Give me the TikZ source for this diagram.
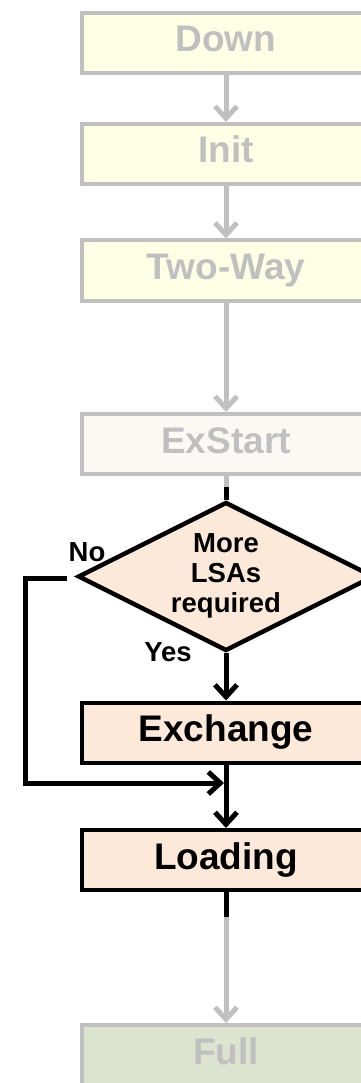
\documentclass[tikz,border=0pt]{standalone}
\usepackage{fontspec}
\setmainfont{Liberation Sans}
\usetikzlibrary{arrows.meta,shapes.geometric}
\definecolor{fadegray}{HTML}{C0C0C0}
\definecolor{paleyellow}{HTML}{FFFFE6}
\definecolor{paleivory}{HTML}{FBF9F4}
\definecolor{peach}{HTML}{FDE9D9}
\definecolor{palegreen}{HTML}{DCE4CF}
\tikzset{
  statebox/.style={rectangle, minimum width=288pt, minimum height=60pt,
    line width=4pt, inner sep=0pt, text height=26pt, text depth=8pt,
    font=\fontsize{37pt}{40pt}\selectfont\bfseries},
  faded/.style={statebox, draw=fadegray, text=fadegray},
  active/.style={statebox, draw=black, fill=peach, text=black},
  chev/.style={-{Straight Barb[length=12pt,width=22pt]}},
  grayline/.style={draw=fadegray, line width=5pt},
  blackline/.style={draw=black, line width=5pt},
  lbl/.style={font=\fontsize{27.5pt}{30pt}\selectfont\bfseries, inner sep=0pt},
}
\begin{document}
\begin{tikzpicture}[x=1pt,y=-1pt]
  \useasboundingbox (0,0) rectangle (361,1083);
  \clip (0,0) rectangle (361,1083);

  % states of the neighbour state machine
  \node[faded, fill=paleyellow] (down)   at (226,43)    {Down};
  \node[faded, fill=paleyellow] (init)   at (226,154)   {Init};
  \node[faded, fill=paleyellow] (twoway) at (226,270.5) {Two-Way};
  \node[faded, fill=paleivory]  (exstart) at (226,444)  {ExStart};

  % decision
  \node[diamond, draw=black, fill=peach, line width=4.5pt, inner sep=0pt,
        minimum width=296pt, minimum height=149pt] (dec) at (226,576.5) {};
  \node[lbl, align=center] (dectext) at (226,576) {More\\LSAs\\required};
  \node[lbl] (no)  at (87,552) {No};
  \node[lbl] (yes) at (168,652) {Yes};

  \node[active] (exchange) at (226,732.5) {Exchange};
  \node[active] (loading)  at (226,860)   {Loading};
  \node[faded, fill=palegreen] (full) at (226,1055) {Full};

  % connectors
  \draw[grayline, chev] (down) -- (init);
  \draw[grayline, chev] (init) -- (twoway);
  \draw[grayline, chev] (twoway) -- (exstart);

  \coordinate (exjoin) at (226,487);
  \draw[grayline] (exstart.south) -- (exjoin);
  \draw[blackline] (exjoin) -- (dec.north);

  \draw[blackline, chev] (dec.south) -- (exchange.north);
  \draw[blackline, chev] (exchange.south) -- (loading.north);

  \coordinate (nostart) at (67,578);
  \coordinate (nocorner) at (25,578);
  \coordinate (nolow) at (25,783);
  \coordinate (nomerge) at (224,783);
  \draw[blackline, chev, line join=miter] (nostart) -- (nocorner) -- (nolow) -- (nomerge);

  \coordinate (ldjoin) at (226,917);
  \draw[blackline] (loading.south) -- (ldjoin);
  \draw[grayline, chev] (ldjoin) -- (full.north);
\end{tikzpicture}
\end{document}
